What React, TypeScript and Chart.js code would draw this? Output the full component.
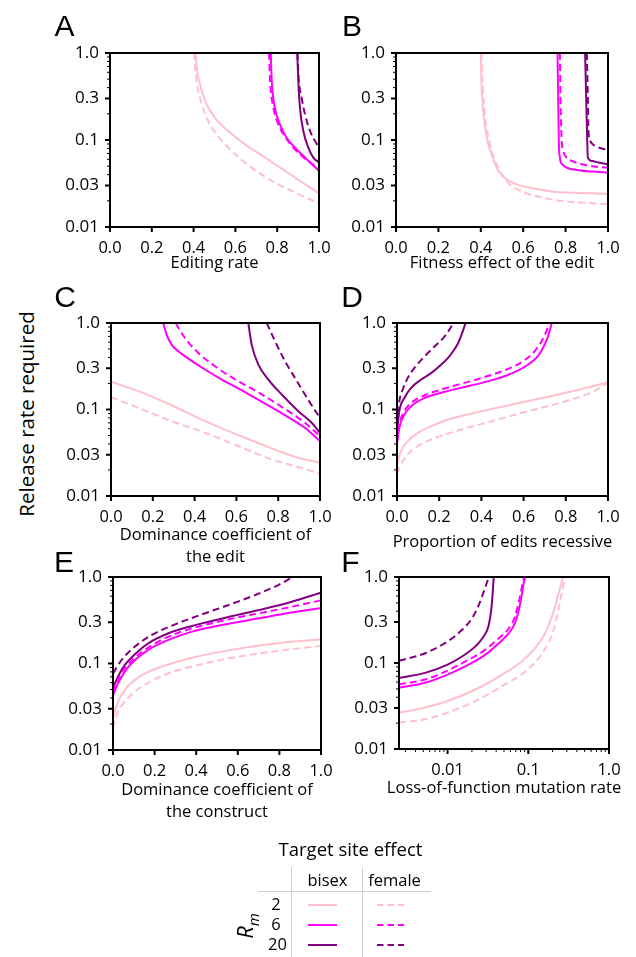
import React, { useEffect, useRef } from "react";
import { Chart, registerables } from "chart.js";
Chart.register(...registerables);

type Pt = [number, number];

// ---------------- Data: [x value, release rate required] ----------------
// A: Editing rate
const A_R2_bisex: Pt[] = [[0.41, 1.0], [0.415, 0.673], [0.431, 0.434], [0.455, 0.28], [0.502, 0.18], [0.566, 0.127], [0.646, 0.089], [0.742, 0.0628], [0.837, 0.0442], [0.933, 0.031], [1.0, 0.0243]];
const A_R2_female: Pt[] = [[0.403, 1.0], [0.41, 0.565], [0.431, 0.305], [0.4625, 0.18], [0.51, 0.116], [0.582, 0.0748], [0.678, 0.0482], [0.774, 0.034], [0.869, 0.026], [1.0, 0.0187]];
const A_R6_bisex: Pt[] = [[0.769, 1.0], [0.774, 0.474], [0.789, 0.234], [0.813, 0.151], [0.845, 0.106], [0.885, 0.0817], [0.933, 0.0628], [1.0, 0.0442]];
const A_R6_female: Pt[] = [[0.761, 1.0], [0.766, 0.474], [0.782, 0.234], [0.805, 0.151], [0.837, 0.11], [0.877, 0.0817], [0.933, 0.061], [1.0, 0.047]];
const A_R20_bisex: Pt[] = [[0.896, 1.0], [0.901, 0.474], [0.909, 0.234], [0.925, 0.127], [0.949, 0.0817], [0.973, 0.0628], [1.0, 0.055]];
const A_R20_female: Pt[] = [[0.897, 1.0], [0.903, 0.5], [0.917, 0.305], [0.933, 0.197], [0.957, 0.127], [0.981, 0.0974], [1.0, 0.0817]];

// B: Fitness effect of the edit
const B_R2_bisex: Pt[] = [[0.4, 1.0], [0.403, 0.474], [0.413, 0.197], [0.432, 0.0974], [0.456, 0.0628], [0.479, 0.0461], [0.511, 0.037], [0.575, 0.0305], [0.638, 0.028], [0.733, 0.0256], [0.829, 0.0247], [0.924, 0.0245], [1.0, 0.024]];
const B_R2_female: Pt[] = [[0.403, 1.0], [0.408, 0.474], [0.419, 0.197], [0.44, 0.0974], [0.467, 0.0575], [0.503, 0.0387], [0.535, 0.031], [0.606, 0.0249], [0.702, 0.0215], [0.797, 0.0197], [0.892, 0.019], [1.0, 0.0183]];
const B_R6_bisex: Pt[] = [[0.762, 1.0], [0.765, 0.305], [0.768, 0.0974], [0.773, 0.0628], [0.784, 0.0526], [0.813, 0.0474], [0.86, 0.045], [0.924, 0.0434], [1.0, 0.0423]];
const B_R6_female: Pt[] = [[0.773, 1.0], [0.776, 0.305], [0.781, 0.106], [0.789, 0.0748], [0.805, 0.0628], [0.837, 0.0565], [0.892, 0.0517], [0.956, 0.049], [1.0, 0.0482]];
const B_R20_bisex: Pt[] = [[0.892, 1.0], [0.897, 0.305], [0.902, 0.0974], [0.905, 0.0628], [0.924, 0.0575], [0.956, 0.055], [1.0, 0.0526]];
const B_R20_female: Pt[] = [[0.9, 1.0], [0.905, 0.305], [0.908, 0.127], [0.916, 0.0974], [0.94, 0.0854], [0.971, 0.08], [1.0, 0.077]];

// C: Dominance coefficient of the edit
const C_R2_bisex: Pt[] = [[0, 0.209], [0.131, 0.163], [0.29, 0.112], [0.45, 0.0733], [0.609, 0.0506], [0.769, 0.0355], [0.896, 0.0277], [1.0, 0.0243]];
const C_R2_female: Pt[] = [[0, 0.139], [0.131, 0.1045], [0.29, 0.0733], [0.45, 0.0538], [0.609, 0.0378], [0.769, 0.0265], [0.896, 0.0216], [1.0, 0.0181]];
const C_R6_bisex: Pt[] = [[0.25, 1.0], [0.266, 0.733], [0.29, 0.562], [0.322, 0.471], [0.37, 0.388], [0.45, 0.29], [0.53, 0.222], [0.609, 0.175], [0.689, 0.136], [0.769, 0.106], [0.848, 0.0816], [0.928, 0.0614], [1.0, 0.0431]];
const C_R6_female: Pt[] = [[0.309, 1.0], [0.354, 0.671], [0.418, 0.451], [0.498, 0.316], [0.609, 0.212], [0.689, 0.166], [0.769, 0.127], [0.848, 0.0957], [0.928, 0.0702], [1.0, 0.0492]];
const C_R20_bisex: Pt[] = [[0.657, 1.0], [0.673, 0.562], [0.705, 0.331], [0.753, 0.222], [0.817, 0.149], [0.896, 0.0957], [0.96, 0.0702], [1.0, 0.0538]];
const C_R20_female: Pt[] = [[0.745, 1.0], [0.785, 0.614], [0.833, 0.361], [0.88, 0.232], [0.928, 0.149], [0.968, 0.1045], [1.0, 0.08]];

// D: Proportion of edits recessive
const D_R2_bisex: Pt[] = [[0, 0.0232], [0.019, 0.033], [0.051, 0.0431], [0.099, 0.0538], [0.163, 0.0642], [0.242, 0.0767], [0.37, 0.0916], [0.53, 0.112], [0.689, 0.136], [0.848, 0.166], [1.0, 0.207]];
const D_R2_female: Pt[] = [[0, 0.0181], [0.019, 0.0232], [0.051, 0.0303], [0.099, 0.0378], [0.163, 0.0451], [0.29, 0.0573], [0.45, 0.0733], [0.609, 0.094], [0.769, 0.119], [0.928, 0.16], [1.0, 0.203]];
const D_R6_bisex: Pt[] = [[0, 0.0412], [0.011, 0.0614], [0.035, 0.0875], [0.067, 0.109], [0.131, 0.136], [0.21, 0.156], [0.29, 0.175], [0.402, 0.203], [0.53, 0.253], [0.609, 0.316], [0.673, 0.431], [0.713, 0.671], [0.734, 1.0]];
const D_R6_female: Pt[] = [[0, 0.042], [0.011, 0.0671], [0.035, 0.0957], [0.067, 0.119], [0.131, 0.146], [0.21, 0.17], [0.29, 0.194], [0.402, 0.232], [0.53, 0.297], [0.609, 0.378], [0.665, 0.515], [0.705, 0.767], [0.721, 1.0]];
const D_R20_bisex: Pt[] = [[0, 0.054], [0.011, 0.0957], [0.035, 0.136], [0.067, 0.178], [0.115, 0.222], [0.163, 0.265], [0.21, 0.331], [0.242, 0.395], [0.266, 0.471], [0.29, 0.588], [0.309, 0.767], [0.325, 1.0]];
const D_R20_female: Pt[] = [[0, 0.067], [0.011, 0.125], [0.027, 0.17], [0.051, 0.232], [0.083, 0.303], [0.131, 0.412], [0.179, 0.538], [0.226, 0.702], [0.258, 0.915], [0.266, 1.0]];

// E: Dominance coefficient of the construct
const E_R2_bisex: Pt[] = [[0, 0.0236], [0.024, 0.0361], [0.056, 0.0492], [0.104, 0.0642], [0.168, 0.08], [0.264, 0.0974], [0.376, 0.116], [0.536, 0.139], [0.696, 0.16], [0.856, 0.178], [1.0, 0.189]];
const E_R2_female: Pt[] = [[0, 0.0181], [0.024, 0.0277], [0.056, 0.0361], [0.104, 0.0471], [0.168, 0.0598], [0.264, 0.0767], [0.376, 0.0916], [0.536, 0.112], [0.696, 0.13], [0.856, 0.146], [1.0, 0.16]];
const E_R6_bisex: Pt[] = [[0, 0.0431], [0.024, 0.0588], [0.056, 0.08], [0.104, 0.109], [0.168, 0.143], [0.264, 0.186], [0.376, 0.232], [0.536, 0.282], [0.696, 0.331], [0.856, 0.388], [1.0, 0.439]];
const E_R6_female: Pt[] = [[0, 0.0463], [0.024, 0.0642], [0.056, 0.0875], [0.104, 0.116], [0.168, 0.152], [0.264, 0.203], [0.376, 0.253], [0.536, 0.316], [0.696, 0.378], [0.856, 0.451], [1.0, 0.538]];
const E_R20_bisex: Pt[] = [[0, 0.0515], [0.024, 0.0702], [0.056, 0.0957], [0.104, 0.127], [0.168, 0.17], [0.264, 0.222], [0.376, 0.27], [0.536, 0.336], [0.696, 0.412], [0.856, 0.515], [1.0, 0.66]];
const E_R20_female: Pt[] = [[0, 0.0767], [0.04, 0.109], [0.104, 0.156], [0.184, 0.212], [0.296, 0.282], [0.424, 0.367], [0.552, 0.471], [0.68, 0.614], [0.792, 0.801], [0.864, 1.0]];

// F: Loss-of-function mutation rate (log x)
const F_R2_bisex: Pt[] = [[0.0025, 0.0265], [0.00527, 0.0303], [0.01, 0.0361], [0.0221, 0.0492], [0.0474, 0.0733], [0.0925, 0.114], [0.149, 0.194], [0.199, 0.361], [0.24, 0.671], [0.27, 1.0]];
const F_R2_female: Pt[] = [[0.0025, 0.0203], [0.00527, 0.0222], [0.01, 0.0265], [0.0221, 0.0361], [0.0474, 0.0538], [0.0925, 0.08], [0.149, 0.13], [0.209, 0.253], [0.252, 0.562], [0.286, 1.0]];
const F_R6_bisex: Pt[] = [[0.0025, 0.0515], [0.00527, 0.0588], [0.01, 0.0733], [0.0182, 0.0957], [0.0294, 0.125], [0.0431, 0.17], [0.0574, 0.222], [0.0695, 0.303], [0.0802, 0.515], [0.0883, 0.875], [0.0925, 1.0]];
const F_R6_female: Pt[] = [[0.0025, 0.0563], [0.00527, 0.0642], [0.01, 0.0816], [0.0182, 0.109], [0.0294, 0.143], [0.0431, 0.194], [0.0574, 0.253], [0.0682, 0.345], [0.078, 0.562], [0.0857, 0.875], [0.089, 1.0]];
const F_R20_bisex: Pt[] = [[0.0025, 0.067], [0.00527, 0.0767], [0.01, 0.0957], [0.0151, 0.119], [0.0221, 0.156], [0.028, 0.203], [0.0324, 0.277], [0.0349, 0.431], [0.0363, 0.671], [0.0373, 1.0]];
const F_R20_female: Pt[] = [[0.0025, 0.106], [0.00527, 0.13], [0.01, 0.178], [0.0151, 0.243], [0.0201, 0.331], [0.0243, 0.471], [0.028, 0.671], [0.0309, 0.875], [0.0324, 1.0]];

// ---------------- Ticks / labels ----------------
const Y_TICK_VALUES = [0.01, 0.03, 0.1, 0.3, 1.0];
const Y_TICK_LABELS = ["0.01", "0.03", "0.1", "0.3", "1.0"];
const Y_MINOR_VALUES = [0.02, 0.04, 0.05, 0.06, 0.07, 0.08, 0.09, 0.2, 0.4, 0.5, 0.6, 0.7, 0.8, 0.9];
const LIN_X_TICK_VALUES = [0, 0.2, 0.4, 0.6, 0.8, 1.0];
const LIN_X_TICK_LABELS = ["0.0", "0.2", "0.4", "0.6", "0.8", "1.0"];
const LOG_X_TICK_VALUES = [0.01, 0.1, 1.0];
const LOG_X_TICK_LABELS = ["0.01", "0.1", "1.0"];
const LOG_X_MINOR_VALUES = [0.003, 0.004, 0.005, 0.006, 0.007, 0.008, 0.009, 0.02, 0.03, 0.04, 0.05, 0.06, 0.07, 0.08, 0.09, 0.2, 0.3, 0.4, 0.5, 0.6, 0.7, 0.8, 0.9];
const RM_LABELS = ["2", "6", "20"];
const EFFECT_LABELS = ["bisex", "female"];

// ---------------- Styles ----------------
const RM_COLORS = ["#FFC0CB", "#FF00FF", "#800080"];
const DASH = [7, 4];
const FONT = "'Open Sans', 'DejaVu Sans', sans-serif";
const TITLE_SIZE = 16.5;
const TITLE_LINE = 22;

interface Panel {
  letter: string;
  plot: { l: number; t: number; r: number; b: number };
  title: string[];
  titleY: number;
  logX: boolean;
  series: Pt[][]; // order: R2 bisex, R2 female, R6 bisex, R6 female, R20 bisex, R20 female
  letterPos: [number, number];
}

const PANELS: Panel[] = [
  { letter: "A", plot: { l: 110, t: 53, r: 319, b: 227 }, title: ["Editing rate"], titleY: 263, logX: false,
    series: [A_R2_bisex, A_R2_female, A_R6_bisex, A_R6_female, A_R20_bisex, A_R20_female], letterPos: [64.5, 26] },
  { letter: "B", plot: { l: 396, t: 53, r: 608, b: 227 }, title: ["Fitness effect of the edit"], titleY: 263, logX: false,
    series: [B_R2_bisex, B_R2_female, B_R6_bisex, B_R6_female, B_R20_bisex, B_R20_female], letterPos: [352, 26] },
  { letter: "C", plot: { l: 111, t: 323, r: 320, b: 496 }, title: ["Dominance coefficient of", "the edit"], titleY: 557, logX: false,
    series: [C_R2_bisex, C_R2_female, C_R6_bisex, C_R6_female, C_R20_bisex, C_R20_female], letterPos: [65, 297] },
  { letter: "D", plot: { l: 397, t: 323, r: 608, b: 496 }, title: ["Proportion of edits recessive"], titleY: 542, logX: false,
    series: [D_R2_bisex, D_R2_female, D_R6_bisex, D_R6_female, D_R20_bisex, D_R20_female], letterPos: [352, 297] },
  { letter: "E", plot: { l: 113, t: 577, r: 321, b: 750 }, title: ["Dominance coefficient of", "the construct"], titleY: 812, logX: false,
    series: [E_R2_bisex, E_R2_female, E_R6_bisex, E_R6_female, E_R20_bisex, E_R20_female], letterPos: [64, 562] },
  { letter: "F", plot: { l: 399, t: 577, r: 609, b: 749 }, title: ["Loss-of-function mutation rate"], titleY: 788, logX: true,
    series: [F_R2_bisex, F_R2_female, F_R6_bisex, F_R6_female, F_R20_bisex, F_R20_female], letterPos: [350.5, 562] },
];

function geom(p: Panel) {
  const padL = 70, padT = 16, padR = 30;
  const xH = Math.round(p.titleY - p.plot.b + 14);
  return {
    left: p.plot.l - padL,
    top: p.plot.t - padT,
    w: p.plot.r - p.plot.l + padL + padR,
    h: p.plot.b - p.plot.t + padT + xH,
    padL, padT, padR, xH,
  };
}

function makeChart(canvas: HTMLCanvasElement, p: Panel) {
  const g = geom(p);
  const xTickVals = p.logX ? LOG_X_TICK_VALUES : LIN_X_TICK_VALUES;
  const xTickLabels = p.logX ? LOG_X_TICK_LABELS : LIN_X_TICK_LABELS;

  const datasets = p.series.map((pts, i) => ({
    data: pts.map(([x, y]) => ({ x, y })),
    borderColor: RM_COLORS[Math.floor(i / 2)],
    borderWidth: 2,
    borderDash: i % 2 === 1 ? DASH : [],
    pointRadius: 0,
    fill: false,
    cubicInterpolationMode: "monotone" as const,
  }));

  const framePlugin = {
    id: "frame" + p.letter,
    afterDraw(chart: any) {
      const { ctx, chartArea: a, scales } = chart;
      const xs = scales.x, ys = scales.y;
      ctx.save();
      ctx.strokeStyle = "#000";
      const line = (x1: number, y1: number, x2: number, y2: number) => {
        ctx.beginPath(); ctx.moveTo(x1, y1); ctx.lineTo(x2, y2); ctx.stroke();
      };
      ctx.lineWidth = 1;
      for (const v of Y_MINOR_VALUES) { const py = ys.getPixelForValue(v); line(a.left - 3, py, a.left, py); }
      if (p.logX) for (const v of LOG_X_MINOR_VALUES) { const px = xs.getPixelForValue(v); line(px, a.bottom, px, a.bottom + 3); }
      ctx.lineWidth = 2;
      for (const v of Y_TICK_VALUES) { const py = ys.getPixelForValue(v); line(a.left - 5, py, a.left, py); }
      for (const v of xTickVals) { const px = xs.getPixelForValue(v); line(px, a.bottom, px, a.bottom + 5); }
      ctx.strokeRect(a.left, a.top, a.right - a.left, a.bottom - a.top);

      // x-axis title (drawn without width compression)
      ctx.fillStyle = "#000";
      ctx.font = `${TITLE_SIZE}px ${FONT}`;
      ctx.textAlign = "center";
      ctx.textBaseline = "middle";
      const cx = (a.left + a.right) / 2;
      const lastY = p.titleY - g.top;
      const n = p.title.length;
      p.title.forEach((t, i) => ctx.fillText(t, cx, lastY - (n - 1 - i) * TITLE_LINE));
      ctx.restore();
    },
  };

  return new Chart(canvas, {
    type: "line",
    data: { datasets },
    plugins: [framePlugin],
    options: {
      animation: false,
      responsive: false,
      maintainAspectRatio: false,
      layout: { padding: { top: g.padT, right: g.padR, left: 0, bottom: 0 } },
      plugins: { legend: { display: false }, tooltip: { enabled: false } },
      scales: {
        x: {
          type: p.logX ? "logarithmic" : "linear",
          min: p.logX ? 0.0025 : 0,
          max: 1,
          position: "bottom",
          grid: { display: false, drawTicks: true, tickLength: 5 },
          border: { display: false },
          ticks: {
            autoSkip: false, maxRotation: 0, padding: 6, color: "#000",
            font: { family: FONT, size: 16.5 },
            callback: (_v: any, i: number) => xTickLabels[i],
          },
          afterBuildTicks: (s: any) => { s.ticks = xTickVals.map((v) => ({ value: v })); },
          afterFit: (s: any) => { s.height = g.xH; s.paddingLeft = 0; s.paddingRight = 0; },
          title: { display: false },
        } as any,
        y: {
          type: "logarithmic",
          min: 0.01,
          max: 1,
          position: "left",
          grid: { display: false, drawTicks: true, tickLength: 5 },
          border: { display: false },
          ticks: {
            autoSkip: false, padding: 6, color: "#000",
            font: { family: FONT, size: 17 },
            callback: (_v: any, i: number) => Y_TICK_LABELS[i],
          },
          afterBuildTicks: (s: any) => { s.ticks = Y_TICK_VALUES.map((v) => ({ value: v })); },
          afterFit: (s: any) => { s.width = g.padL; s.paddingTop = 0; s.paddingBottom = 0; },
        } as any,
      },
    },
  });
}

function Txt(props: { x: number; y: number; size: number; children: React.ReactNode; rotate?: boolean; family?: string }) {
  return (
    <div
      style={{
        position: "absolute", left: props.x, top: props.y,
        transform: "translate(-50%, -50%)" + (props.rotate ? " rotate(-90deg)" : ""),
        fontSize: props.size, lineHeight: 1, whiteSpace: "nowrap",
        fontFamily: props.family || FONT, color: "#000",
      }}
    >
      {props.children}
    </div>
  );
}

export default function App() {
  const refs = useRef<(HTMLCanvasElement | null)[]>([]);
  useEffect(() => {
    const charts = PANELS.map((p, i) => makeChart(refs.current[i] as HTMLCanvasElement, p));
    return () => charts.forEach((c) => c.destroy());
  }, []);

  const rowY = [905, 925, 945];
  return (
    <div style={{ position: "absolute", left: 0, top: 0, width: 636, height: 957, overflow: "hidden", background: "#fff" }}>
      {PANELS.map((p, i) => {
        const g = geom(p);
        return (
          <canvas
            key={p.letter}
            ref={(el) => { refs.current[i] = el; }}
            width={g.w}
            height={g.h}
            style={{ position: "absolute", left: g.left, top: g.top, width: g.w, height: g.h }}
          />
        );
      })}
      {PANELS.map((p) => (
        <Txt key={"L" + p.letter} x={p.letterPos[0]} y={p.letterPos[1]} size={30} family="'Liberation Sans', Arial, sans-serif">{p.letter}</Txt>
      ))}
      <Txt x={26} y={414} size={20.5} rotate>Release rate required</Txt>

      {/* Legend table */}
      <svg width={636} height={957} style={{ position: "absolute", left: 0, top: 0 }}>
        <line x1={291.5} y1={867} x2={291.5} y2={957} stroke="#cfcfcf" strokeWidth={1} />
        <line x1={362.5} y1={867} x2={362.5} y2={957} stroke="#cfcfcf" strokeWidth={1} />
        <line x1={258} y1={891.5} x2={431} y2={891.5} stroke="#cfcfcf" strokeWidth={1} />
        {RM_COLORS.map((c, i) => (
          <g key={c}>
            <line x1={308} y1={rowY[i]} x2={337} y2={rowY[i]} stroke={c} strokeWidth={2} />
            <line x1={377} y1={rowY[i]} x2={404} y2={rowY[i]} stroke={c} strokeWidth={2} strokeDasharray="6.5 4" />
          </g>
        ))}
      </svg>
      <Txt x={350.5} y={849} size={18.5}>Target site effect</Txt>
      <Txt x={327.5} y={880} size={16.5}>{EFFECT_LABELS[0]}</Txt>
      <Txt x={394.5} y={880} size={16.5}>{EFFECT_LABELS[1]}</Txt>
      {RM_LABELS.map((l, i) => (
        <Txt key={l} x={i === 2 ? 277.5 : 276} y={rowY[i] - 1} size={16.5}>{l}</Txt>
      ))}
      <Txt x={247} y={926} size={22} rotate>
        <i>R</i><sub style={{ fontSize: 15 }}><i>m</i></sub>
      </Txt>
    </div>
  );
}
